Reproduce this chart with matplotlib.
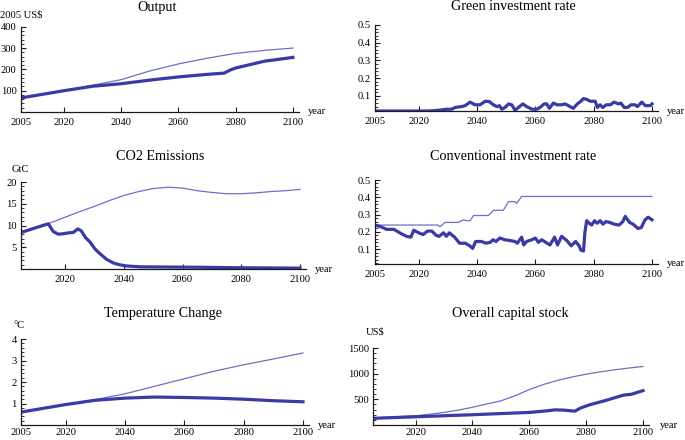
import matplotlib
matplotlib.use('Agg')
import matplotlib.pyplot as plt
from matplotlib.ticker import MultipleLocator

plt.rcParams['font.family'] = ['Liberation Serif', 'DejaVu Serif']

# ---------------- data ----------------
# Output (2005 US$)
out_base_years = [2005, 2020, 2030, 2040, 2050, 2060, 2070, 2080, 2090, 2100]
out_base = [68, 100, 126, 152, 193, 226, 253, 276, 290, 301]
out_pol_years = [2005, 2020, 2030, 2040, 2050, 2060, 2070, 2076, 2078, 2080, 2090, 2100]
out_pol = [66, 100, 121, 133, 150, 165, 177, 183, 197, 207, 239, 257]

# Green investment rate
green_years = [2005, 2023.5, 2027.3, 2029.6, 2031.3, 2032.5, 2034.7, 2035.9, 2037.6, 2039.3,
               2041.0, 2042.8, 2044.2, 2045.6, 2046.8, 2047.7, 2048.5, 2049.6, 2050.8, 2051.9,
               2053.0, 2054.2, 2055.7, 2057.0, 2058.8, 2060.5, 2061.6, 2063.0, 2063.9, 2064.8,
               2066.2, 2067.4, 2069.0, 2070.2, 2071.9, 2073.0, 2074.4, 2075.6, 2076.5, 2077.7,
               2078.8, 2080.5, 2081.3, 2082.2, 2083.1, 2084.3, 2085.7, 2087.0, 2088.5, 2089.3,
               2090.5, 2091.6, 2092.8, 2094.2, 2095.0, 2096.5, 2097.7, 2099.4, 2100]
green_rate = [0.015, 0.015, 0.02, 0.025, 0.025, 0.035, 0.04, 0.045, 0.065, 0.05,
              0.05, 0.07, 0.068, 0.05, 0.04, 0.045, 0.025, 0.035, 0.055, 0.05,
              0.02, 0.035, 0.055, 0.04, 0.025, 0.025, 0.035, 0.055, 0.055, 0.03,
              0.06, 0.05, 0.05, 0.055, 0.04, 0.03, 0.055, 0.07, 0.085, 0.08,
              0.07, 0.07, 0.035, 0.05, 0.035, 0.05, 0.05, 0.065, 0.055, 0.06,
              0.035, 0.035, 0.05, 0.05, 0.04, 0.065, 0.045, 0.045, 0.055]

# CO2 emissions (GtC)
co2_base_years = [2005, 2010, 2015, 2020, 2025, 2030, 2035, 2040, 2045, 2050, 2055, 2060,
                  2065, 2070, 2075, 2080, 2085, 2090, 2095, 2100]
co2_base = [8.4, 9.5, 10.6, 11.9, 13.2, 14.4, 15.7, 16.9, 17.8, 18.5, 18.8, 18.6,
            18.0, 17.6, 17.3, 17.3, 17.5, 17.8, 18.0, 18.3]
co2_pol_years = [2005, 2014.3, 2016, 2017.7, 2019.4, 2021.1, 2022.8, 2024.3, 2025.5, 2027,
                 2028.5, 2030.2, 2031.9, 2034.2, 2036.4, 2038.7, 2041, 2045.5, 2054.6, 2066,
                 2077.3, 2088.6, 2100]
co2_pol = [8.4, 10.4, 8.6, 8.0, 8.1, 8.3, 8.4, 9.2, 8.8, 7.2,
           6.2, 4.6, 3.5, 2.2, 1.4, 0.95, 0.7, 0.5, 0.45, 0.4,
           0.3, 0.25, 0.2]

# Conventional investment rate
conv_base_years = [2005, 2026.5, 2027.3, 2029, 2033.6, 2035.3, 2036.5, 2037.6, 2038.8, 2043.9,
                   2045.6, 2049, 2050.8, 2053, 2053.6, 2055.3, 2100]
conv_base = [0.24, 0.24, 0.23, 0.255, 0.255, 0.27, 0.265, 0.265, 0.295, 0.295,
             0.325, 0.325, 0.375, 0.375, 0.365, 0.405, 0.405]
conv_pol_years = [2005, 2007, 2009, 2011.5, 2014, 2015.8, 2017.3, 2018.3, 2020, 2021.5,
                  2023, 2024.5, 2026, 2027, 2028.5, 2029.5, 2030.5, 2032.3, 2034, 2036,
                  2037.5, 2038.5, 2039.5, 2041.5, 2043, 2044.5, 2045.5, 2046.5, 2047.8, 2049.5,
                  2051.5, 2053, 2053.8, 2055.3, 2056, 2057, 2058.8, 2060, 2061, 2062.2,
                  2064, 2065, 2066.6, 2067.6, 2069, 2070.8, 2072.3, 2073.8, 2075, 2075.6,
                  2076.5, 2077, 2077.6, 2078.5, 2079.3, 2080.3, 2081.2, 2082.2, 2083.2, 2084.2,
                  2085.5, 2087, 2088.7, 2090, 2090.8, 2092.3, 2093.5, 2095.2, 2096.3, 2097.6,
                  2098.7, 2100]
conv_pol = [0.24, 0.23, 0.215, 0.215, 0.19, 0.175, 0.17, 0.21, 0.195, 0.185,
            0.205, 0.205, 0.18, 0.175, 0.195, 0.175, 0.195, 0.17, 0.135, 0.135,
            0.12, 0.105, 0.145, 0.145, 0.135, 0.14, 0.155, 0.145, 0.165, 0.155,
            0.15, 0.145, 0.135, 0.17, 0.125, 0.145, 0.155, 0.165, 0.14, 0.155,
            0.135, 0.125, 0.17, 0.125, 0.175, 0.15, 0.12, 0.145, 0.12, 0.095,
            0.09, 0.2, 0.265, 0.25, 0.24, 0.265, 0.25, 0.265, 0.245, 0.26,
            0.255, 0.245, 0.24, 0.26, 0.29, 0.255, 0.245, 0.22, 0.225, 0.27,
            0.285, 0.27]

# Temperature change (degC)
temp_years = [2005, 2020, 2030, 2040, 2050, 2060, 2070, 2080, 2090, 2100]
temp_base = [0.6, 0.95, 1.18, 1.45, 1.8, 2.15, 2.5, 2.8, 3.07, 3.35]
temp_pol = [0.6, 0.95, 1.15, 1.25, 1.3, 1.28, 1.25, 1.2, 1.13, 1.08]

# Overall capital stock (US$)
cap_base_years = [2005, 2010, 2015, 2020, 2025, 2030, 2035, 2040, 2045, 2050, 2055, 2060,
                  2065, 2070, 2075, 2080, 2085, 2090, 2095, 2100]
cap_base = [140, 150, 165, 180, 210, 245, 290, 345, 410, 470, 570, 690,
            790, 870, 935, 990, 1035, 1075, 1110, 1140]
cap_pol_years = [2005, 2020, 2040, 2060, 2066, 2069, 2072, 2076, 2078, 2081, 2087, 2093, 2096, 2100]
cap_pol = [130, 160, 200, 245, 275, 295, 290, 270, 330, 390, 480, 580, 600, 670]

year_ticks = [2005, 2020, 2040, 2060, 2080, 2100]
year_ticks_no_origin = [2020, 2040, 2060, 2080, 2100]

# ---------------- drawing ----------------
W, H = 685, 440
fig = plt.figure(figsize=(W / 100, H / 100), dpi=100)

THICK = '#3a3aa6'
THIN = '#6e6ec6'
AXC = '#1a1a1a'
TICK_FS = 7.6
TITLE_FS = 10.2


def make_axes(x0, x2100, ytop, ybot):
    width = (x2100 - x0) * 97 / 95
    return fig.add_axes([x0 / W, 1 - ybot / H, width / W, (ybot - ytop) / H])


def style(ax, ylim, yticks, ylabels, yminor, xticks, xpad=4.5):
    ax.set_xlim(2005, 2102)
    ax.set_ylim(*ylim)
    ax.patch.set_alpha(0)
    for s in ['top', 'right']:
        ax.spines[s].set_visible(False)
    for s in ['left', 'bottom']:
        ax.spines[s].set_linewidth(0.9)
        ax.spines[s].set_color(AXC)
    ax.set_xticks(xticks)
    ax.set_xticklabels([str(t) for t in xticks])
    ax.set_yticks(yticks)
    ax.set_yticklabels(ylabels)
    ax.yaxis.set_minor_locator(MultipleLocator(yminor))
    ax.tick_params(axis='both', which='major', direction='in', length=3.8, width=0.8,
                   color=AXC, labelsize=TICK_FS)
    ax.tick_params(axis='y', which='minor', direction='in', length=2.0, width=0.6, color=AXC)
    ax.tick_params(axis='x', which='major', pad=xpad)
    ax.tick_params(axis='y', which='major', pad=3)


def ftext(x, y, s, size, ha='left'):
    fig.text(x / W, 1 - y / H, s, fontsize=size, ha=ha, va='center')


# Output
ax = make_axes(20.7, 293, 27, 112)
ax.plot(out_base_years, out_base, color=THIN, lw=0.9)
ax.plot(out_pol_years, out_pol, color=THICK, lw=2.3)
style(ax, (0, 400), [100, 200, 300, 400], ['100', '200', '300', '400'], 20, year_ticks)
ftext(157, 7, 'Output', TITLE_FS, 'center')
ftext(0, 15, '2005 US$', TICK_FS)
ftext(308, 112, 'year', TICK_FS)

# Green investment rate
ax = make_axes(375, 652, 25, 111)
ax.plot(green_years, green_rate, color=THICK, lw=2.3)
style(ax, (0.015, 0.5), [0.1, 0.2, 0.3, 0.4, 0.5], ['0.1', '0.2', '0.3', '0.4', '0.5'], 0.02, year_ticks)
ftext(513, 7, 'Green investment rate', TITLE_FS, 'center')
ftext(667, 111, 'year', TICK_FS)

# CO2 Emissions
ax = make_axes(21, 300, 182, 269)
ax.plot(co2_base_years, co2_base, color=THIN, lw=0.9)
ax.plot(co2_pol_years, co2_pol, color=THICK, lw=2.3)
style(ax, (0, 20), [5, 10, 15, 20], ['5', '10', '15', '20'], 1, year_ticks_no_origin)
ftext(160, 156, 'CO2 Emissions', TITLE_FS, 'center')
ftext(12, 169, 'GtC', TICK_FS)
ftext(315, 269, 'year', TICK_FS)

# Conventional investment rate
ax = make_axes(375, 652, 180, 264)
ax.plot(conv_base_years, conv_base, color=THIN, lw=0.9)
ax.plot(conv_pol_years, conv_pol, color=THICK, lw=2.3)
style(ax, (0.015, 0.5), [0.1, 0.2, 0.3, 0.4, 0.5], ['0.1', '0.2', '0.3', '0.4', '0.5'], 0.02, year_ticks)
ftext(513, 157, 'Conventional investment rate', TITLE_FS, 'center')
ftext(667, 264, 'year', TICK_FS)

# Temperature Change
ax = make_axes(21, 303, 339, 425)
ax.plot(temp_years, temp_base, color=THIN, lw=0.9)
ax.plot(temp_years, temp_pol, color=THICK, lw=2.3)
style(ax, (0, 4), [1, 2, 3, 4], ['1', '2', '3', '4'], 0.2, year_ticks, xpad=2.0)
ftext(163, 313, 'Temperature Change', TITLE_FS, 'center')
ftext(14, 325, '°C', TICK_FS)
ftext(318, 425, 'year', TICK_FS)

# Overall capital stock
ax = make_axes(373, 643, 348, 425)
ax.plot(cap_base_years, cap_base, color=THIN, lw=0.9)
ax.plot(cap_pol_years, cap_pol, color=THICK, lw=2.3)
style(ax, (0, 1500), [500, 1000, 1500], ['500', '1000', '1500'], 100, year_ticks_no_origin, xpad=2.0)
ftext(510, 313, 'Overall capital stock', TITLE_FS, 'center')
ftext(366, 332, 'US$', TICK_FS)
ftext(660, 425, 'year', TICK_FS)

fig.savefig('out.png', dpi=100)
